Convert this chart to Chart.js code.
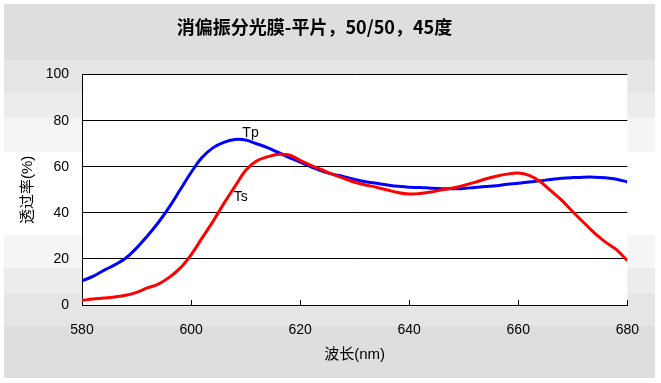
<!DOCTYPE html>
<html>
<head>
<meta charset="utf-8">
<script src="https://cdn.jsdelivr.net/npm/chart.js@4/dist/chart.umd.min.js"></script>
<style>
html,body{margin:0;padding:0;background:#fff;overflow:hidden}
canvas{display:block}
</style>
</head>
<body>
<canvas id="c" width="661" height="383"></canvas>
<script>
// ---- data ----
const chartTitle = '消偏振分光膜-平片，50/50，45度';
const xAxisTitle = '波长(nm)';
const yAxisTitle = '透过率(%)';
const wavelengths = [580,582,584,586,588,590,592,594,596,598,
                     600,602,604,606,608,610,612,614,616,618,
                     620,622,624,626,628,630,632,634,636,638,
                     640,642,644,646,648,650,652,654,656,658,
                     660,662,664,666,668,670,672,674,676,678,680];
const tpValues = [10.5,12.4,15.0,17.4,20.3,24.7,30.0,35.8,42.5,50.0,
                  57.5,64.0,68.2,70.6,71.8,71.6,70.0,68.3,66.2,64.0,
                  62.0,60.0,58.1,56.8,55.7,54.5,53.5,52.8,52.1,51.5,
                  51.1,51.0,50.7,50.5,50.5,50.6,51.0,51.4,51.8,52.4,
                  52.8,53.4,53.9,54.5,55.0,55.3,55.5,55.5,55.2,54.6,53.4];
const tsValues = [2.0,2.6,3.0,3.5,4.2,5.5,7.4,9.1,12.0,16.0,
                  21.8,29.0,36.2,44.0,51.3,58.4,62.5,64.3,65.4,65.1,
                  62.8,60.6,58.7,56.7,55.0,53.3,52.1,51.1,49.9,48.8,
                  48.2,48.4,49.0,50.0,50.8,51.9,53.2,54.7,55.9,56.8,
                  57.3,56.3,53.6,49.5,45.4,40.5,35.8,31.2,27.3,24.0,19.2];
const xTickValues = [580,600,620,640,660,680];
const yTickValues = [0,20,40,60,80,100];
const seriesLabels = ['Tp','Ts'];
const labelAnchorsX = [610.9, 609.1];
const labelAnchorsY = [74.6, 46.7];

// ---- styling ----
const bgBands = [
  [4, 60, '#dedede'], [60, 93, '#e5e5e5'], [93, 118, '#ececec'], [118, 152, '#f5f5f5'],
  [152, 235, '#ffffff'], [235, 268, '#f5f5f5'], [268, 294, '#ececec'], [294, 326, '#e5e5e5'],
  [326, 378, '#dedede']
];
const latin = '"Liberation Sans", Arial, sans-serif';
const mixed = '"Liberation Sans", "Noto Sans CJK SC", sans-serif';

const backgroundPlugin = {
  id: 'bg',
  beforeDraw(chart) {
    const ctx = chart.ctx;
    ctx.save();
    ctx.fillStyle = '#ffffff';
    ctx.fillRect(0, 0, chart.width, chart.height);
    bgBands.forEach(b => {
      ctx.fillStyle = b[2];
      ctx.fillRect(4, b[0], 651, b[1] - b[0]);
    });
    const a = chart.chartArea;
    ctx.fillStyle = '#ffffff';
    ctx.fillRect(a.left, a.top, a.right - a.left, a.bottom - a.top);
    ctx.restore();
  }
};

const seriesLabelPlugin = {
  id: 'seriesLabels',
  afterDatasetsDraw(chart) {
    const ctx = chart.ctx;
    const xs = chart.scales.x, ys = chart.scales.y;
    ctx.save();
    ctx.fillStyle = '#000';
    ctx.font = '14px ' + latin;
    ctx.textAlign = 'center';
    ctx.textBaseline = 'middle';
    seriesLabels.forEach((t, i) => {
      ctx.fillText(t, xs.getPixelForValue(labelAnchorsX[i]), ys.getPixelForValue(labelAnchorsY[i]));
    });
    ctx.restore();
  }
};

const toPoints = vals => wavelengths.map((w, i) => ({x: w, y: vals[i]}));

new Chart(document.getElementById('c'), {
  type: 'line',
  data: {
    datasets: [
      {label: 'Tp', data: toPoints(tpValues), borderColor: '#0000ff', borderWidth: 3,
       pointRadius: 0, tension: 0.4, fill: false, order: 1},
      {label: 'Ts', data: toPoints(tsValues), borderColor: '#ff0000', borderWidth: 3,
       pointRadius: 0, tension: 0.4, fill: false, order: 0}
    ]
  },
  options: {
    responsive: false,
    devicePixelRatio: 1,
    animation: false,
    events: [],
    layout: {padding: {left: 0, right: 32, top: 0, bottom: 0}},
    plugins: {
      legend: {display: false},
      tooltip: {enabled: false},
      title: {
        display: true, text: chartTitle, color: '#000',
        font: {family: '"Noto Sans CJK SC", sans-serif', size: 18, weight: 'bold'},
        padding: {top: 16, bottom: 37}
      }
    },
    scales: {
      x: {
        type: 'linear', min: 580, max: 680,
        afterBuildTicks(s) { s.ticks = xTickValues.map(v => ({value: v})); },
        ticks: {color: '#000', font: {family: latin, size: 14}, padding: 22, maxRotation: 0, autoSkip: false},
        grid: {drawOnChartArea: false, drawTicks: true, tickLength: -5, color: '#000', lineWidth: 1},
        border: {color: '#000', width: 1},
        title: {display: true, text: xAxisTitle, color: '#000', font: {family: mixed, size: 15},
                padding: {top: 0, bottom: 19}},
        afterFit(s) { s.height = 78; }
      },
      y: {
        min: 0, max: 100,
        afterBuildTicks(s) { s.ticks = yTickValues.map(v => ({value: v})); },
        ticks: {color: '#000', font: {family: latin, size: 14}, padding: 13},
        grid: {drawTicks: false, color: '#000', lineWidth: 1},
        border: {color: '#000', width: 1},
        title: {display: true, text: yAxisTitle, color: '#000', font: {family: mixed, size: 15},
                padding: {top: 19, bottom: 0}},
        afterFit(s) { s.width = 82; }
      }
    }
  },
  plugins: [backgroundPlugin, seriesLabelPlugin]
});
</script>
</body>
</html>
